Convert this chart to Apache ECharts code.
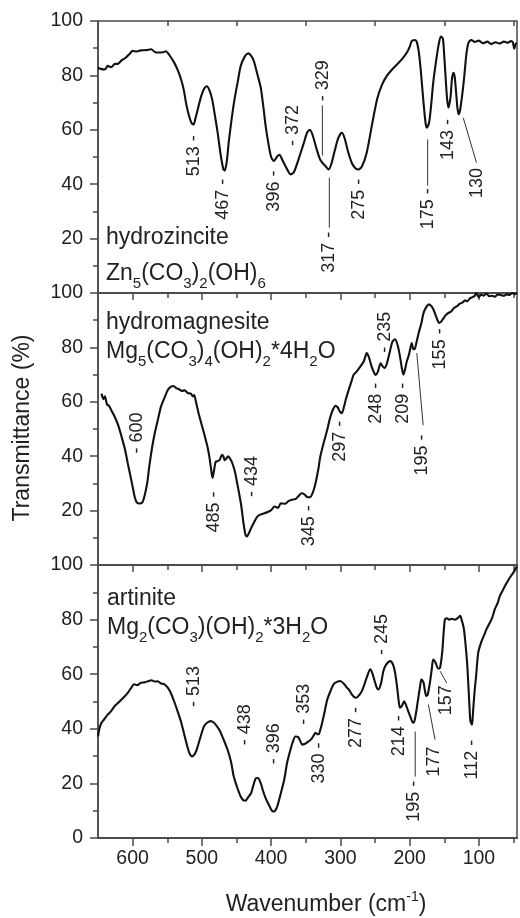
<!DOCTYPE html>
<html>
<head>
<meta charset="utf-8">
<script src="https://cdn.jsdelivr.net/npm/echarts@6/dist/echarts.min.js"></script>
<style>
html,body{margin:0;padding:0;background:#fff;}
#chart{width:520px;height:918px;}
</style>
</head>
<body>
<div id="chart"></div>
<script>
// ---------- DATA ----------
const xMajorTicks = [600, 500, 400, 300, 200, 100];
const xMinorTicks = [550, 450, 350, 250, 150, 50];
const yTicksStep = 20;

// hydrozincite spectrum [wavenumber, transmittance]
const hydrozincite = [
[650,82.8],[645,82.3],[640,82.2],[636,83.5],[631,83.0],[626,84.2],[621,84.3],[616,85.5],[610,86.5],[604,88.0],
[600,89.0],[594,88.8],[588,89.2],[580,89.3],[573,89.6],[569,88.8],[566,88.4],[560,88.4],[555,88.6],[552,88.9],
[547,87.5],[540,84.7],[535,82.0],[530,78.5],[526,74.5],[523,70.0],[519,65.5],[515,62.5],[512,62.0],[509,64.5],
[505,68.5],[501,72.4],[497,75.0],[493,76.0],[489,74.5],[485,71.0],[481,65.0],[477,58.5],[473,51.0],[469,45.5],
[467,45.0],[464,48.5],[461,56.0],[457,64.0],[453,71.0],[448,78.0],[444,83.4],[438,87.0],[433,88.1],[429,87.3],
[425,85.3],[420,80.5],[415,75.5],[411,68.0],[408,61.5],[404,55.0],[400,50.0],[396,48.5],[391,50.3],[388,50.8],
[384,49.0],[378,46.0],[372,43.6],[367,44.5],[360,49.5],[353,55.0],[348,59.0],[344,60.0],[340,58.0],[335,53.5],
[330,49.5],[326,47.8],[322,46.8],[317,45.4],[313,47.5],[308,52.5],[303,57.0],[298,58.9],[294,57.0],[289,52.0],
[283,47.5],[278,45.8],[274,45.4],[269,46.5],[262,51.6],[255,61.0],[247,71.2],[240,76.5],[233,79.8],[226,82.0],
[218,84.1],[211,86.0],[204,88.4],[200,90.5],[197,92.6],[193,93.0],[190,92.5],[187,89.0],[184,82.0],[180,70.0],
[177,62.5],[175,60.8],[172,62.5],[169,69.0],[166,77.3],[162,85.0],[158,91.5],[155,94.3],[152,93.5],[150,87.0],
[148,79.0],[146,71.5],[144,68.1],[141,72.0],[139,78.5],[137,81.0],[135,79.5],[133,74.0],[131,68.0],[129,65.7],
[127,67.5],[124,73.0],[121,80.0],[118,88.0],[115,92.0],[111,93.0],[106,92.3],[100,92.8],[94,91.8],[88,92.4],
[82,91.5],[76,92.2],[70,91.7],[64,92.4],[58,92.0],[54,92.6],[51,92.2],[49,89.8],[47,91.5],[45,92.0]
];

// hydromagnesite spectrum
const hydromagnesite = [
[645,63.0],[642,61.0],[640,62.0],[637,59.0],[634,58.5],[630,56.5],[626,54.6],[621,51.5],[616,47.2],[611,42.5],
[607,37.4],[603,32.5],[600,28.8],[597,25.0],[594,23.0],[590,22.6],[586,23.0],[583,25.2],[579,30.0],[576,36.2],
[572,43.0],[568,48.5],[563,54.0],[559,58.3],[554,61.5],[549,64.4],[545,65.5],[541,65.8],[537,65.0],[533,64.6],
[529,64.0],[525,64.2],[520,63.2],[516,63.0],[513,62.0],[511,62.5],[509,60.5],[505,56.0],[501,52.2],[497,48.5],
[492,43.6],[489,39.5],[486,34.0],[484.5,32.0],[482,35.5],[480,38.0],[477,38.2],[474,38.8],[471,40.5],[469,40.0],
[467,38.5],[465,39.0],[462,40.0],[459,39.0],[456,37.4],[452,34.0],[449,30.0],[446,26.0],[443,21.5],[440,15.5],
[437,11.0],[435,10.5],[432,11.8],[429,13.5],[425,15.5],[420,17.8],[415,18.6],[410,19.0],[405,19.5],[400,20.2],
[395,21.5],[390,21.0],[386,22.7],[380,22.5],[375,23.5],[370,24.0],[365,24.2],[360,25.5],[356,26.4],[352,26.0],
[348,25.0],[344,24.9],[340,26.5],[336,30.0],[332,35.0],[329,39.9],[324,45.0],[319,49.7],[315,54.0],[311,57.0],
[307,58.5],[304,58.0],[301,56.5],[298,55.8],[295,58.0],[292,61.0],[288,64.4],[284,67.5],[281,69.9],[277,71.0],
[271,73.0],[266,75.0],[262,77.9],[259,76.5],[255,73.0],[251,70.5],[249,69.9],[246,71.0],[242,74.2],[239,73.0],
[236,72.4],[233,74.0],[229,78.0],[225,82.0],[221,83.0],[217,80.5],[214,76.7],[211,72.0],[209,70.0],[207,71.5],
[204,75.0],[201,77.3],[197,81.6],[195,79.5],[193,79.3],[190,82.0],[187,85.3],[183,89.0],[180,92.6],[176,94.8],
[172,95.8],[168,95.0],[165,93.5],[162,91.5],[159,89.5],[157,89.0],[153,90.0],[149,91.5],[145,92.5],[140,93.2],
[136,94.5],[132,95.1],[128,96.0],[124,96.5],[120,97.3],[117,96.9],[113,98.0],[109,98.5],[106,99.0],[104,100.0],
[102,99.2],[100,98.5],[97,99.4],[93,99.0],[89,99.8],[85,98.8],[81,99.0],[77,98.6],[73,99.5],[69,99.3],
[64,99.0],[60,99.5],[56,99.3],[52,100.0],[48,99.6],[45,100.0]
];

// artinite spectrum
const artinite = [
[650,37.2],[648,40.0],[645,42.2],[641,43.5],[636,45.2],[631,46.5],[626,48.3],[621,49.5],[616,50.7],[611,52.0],
[607,53.2],[602,55.0],[598,56.3],[593,56.0],[588,56.9],[583,57.0],[578,57.4],[573,57.8],[568,57.3],[564,57.4],
[559,56.6],[554,56.3],[549,55.0],[545,53.2],[540,50.0],[535,46.4],[530,42.5],[526,38.5],[522,34.5],[518,31.1],
[514,29.9],[511,30.5],[508,32.0],[506,33.6],[502,37.0],[497,40.9],[492,42.3],[487,42.8],[483,42.3],[479,41.2],
[475,39.7],[471,37.5],[467,35.0],[463,32.4],[458,28.0],[454,22.5],[449,18.5],[444,15.2],[440,13.8],[437,13.7],
[433,15.0],[429,16.4],[426,19.0],[422,21.9],[419,22.0],[415,20.1],[412,17.5],[408,14.6],[403,12.0],[399,10.0],
[396,9.7],[392,11.0],[389,13.5],[386,16.4],[381,21.5],[377,27.5],[373,31.5],[369,35.0],[365,37.2],[361,37.0],
[358,35.5],[355,34.2],[351,34.5],[348,35.0],[346,35.4],[342,36.2],[338,37.8],[336,38.5],[333,38.0],[331,38.1],
[327,41.5],[323,46.0],[319,50.7],[314,54.0],[310,56.3],[305,57.2],[300,57.5],[295,56.5],[291,55.2],[288,54.4],
[284,52.8],[280,51.6],[277,51.4],[273,52.3],[269,53.8],[265,56.5],[261,59.5],[257,61.8],[254,60.5],[250,57.0],
[247,54.8],[245,54.4],[241,57.0],[238,61.1],[234,63.5],[228,64.8],[224,63.5],[221,60.5],[218,55.0],[216,50.5],
[214,47.7],[211,48.5],[208,50.1],[205,48.5],[202,46.4],[199,44.5],[196,42.5],[194,42.2],[191,45.5],[188,50.5],
[185,55.5],[183,58.1],[180,57.0],[178,54.0],[176,52.0],[174,52.5],[171,56.5],[168,62.0],[166,65.4],[163,64.5],
[160,62.5],[158,62.0],[156,62.5],[153,68.0],[151,75.0],[149,80.1],[146,80.5],[143,80.0],[140,80.3],[137,80.1],
[134,80.0],[130,80.7],[127,81.4],[125,80.0],[122,77.0],[120,72.8],[117,64.0],[115,55.0],[113,45.0],[112,42.5],
[110,41.5],[109,44.0],[108,48.0],[106,54.4],[104,59.5],[101,67.9],[97,71.5],[93,74.0],[89,76.5],[85,78.5],
[81,80.5],[77,83.8],[73,86.0],[70,88.5],[66,90.5],[62,92.5],[59,93.8],[55,95.5],[50,97.3],[45,99.5]
];

// peak labels: [wavenumber, transmittance anchor, text]
const hzLabelsBelow = [[512,58,'513 -'],[469,42,'467 -'],[396,45,'396 -'],[317,22.5,'317 -'],[273,42,'275 -'],[173,38.5,'175 -'],[144,64,'143 -'],[103,46,'130']];
const hzLabelsAbove = [[369,54,'- 372'],[325,70.5,'- 329']];
const hzLeaders = [[326,69,326,50.5],[316,42.4,316,24],[174,56.5,174,39.5],[122.6,64.4,103.5,47.9]];

const hmLabelsBelow = [[483,27,'485 -'],[345,22,'345 -'],[300,53,'297 -'],[249,67,'248 -'],[209,67,'209 -'],[182,48,'195 -'],[156,87,'155 -']];
const hmLabelsAbove = [[593,41,'- 600'],[428,25,'- 434'],[235,78,'- 235']];
const hmLeaders = [[189.7,77.9,180.5,51.4]];

const arLabelsBelow = [[331,35,'330 -'],[278,48,'277 -'],[216,45,'214 -'],[193.5,21,'195 -'],[165,33.5,'177'],[148,56,'157'],[110,36,'112 -']];
const arLabelsAbove = [[512,48,'- 513'],[438,34,'- 438'],[396,27,'- 396'],[353,41.5,'- 353'],[240,67,'- 245']];
const arLeaders = [[192,39,192,22.5],[173,48.9,163.3,36],[156,61.1,146.5,56.8]];

// ---------- LAYOUT / STYLE ----------
const FONT = '"Liberation Sans", Arial, Helvetica, sans-serif';
const AXIS_COLOR = '#4a4a4a';
const TEXT_COLOR = '#222';
const X_MIN = 45, X_MAX = 650;
const grids = [
  {left: 98, right: 3, top: 21, height: 272},
  {left: 98, right: 3, top: 293, height: 272},
  {left: 98, right: 3, top: 565, height: 273}
];

const chart = echarts.init(document.getElementById('chart'), null, {renderer: 'canvas'});

const xAxes = [];
const yAxes = [];
grids.forEach((g, i) => {
  xAxes.push({
    type: 'value', gridIndex: i, position: 'top', min: X_MIN, max: X_MAX, inverse: true,
    axisLine: {show: true, lineStyle: {color: AXIS_COLOR, width: 1.5}},
    axisTick: {show: true, inside: true, length: 7, customValues: xMajorTicks, lineStyle: {color: AXIS_COLOR, width: 1.5}},
    axisLabel: {show: false}, splitLine: {show: false}
  });
  xAxes.push({
    type: 'value', gridIndex: i, position: 'top', min: X_MIN, max: X_MAX, inverse: true,
    axisLine: {show: false},
    axisTick: {show: true, inside: true, length: 5, customValues: xMinorTicks, lineStyle: {color: AXIS_COLOR, width: 1.5}},
    axisLabel: {show: false}, splitLine: {show: false}
  });
  yAxes.push({
    type: 'value', gridIndex: i, min: 0, max: 100, interval: yTicksStep,
    axisLine: {show: true, lineStyle: {color: AXIS_COLOR, width: 1.5}},
    axisTick: {show: true, inside: false, length: 8, lineStyle: {color: AXIS_COLOR, width: 1.5}},
    minorTick: {show: true, splitNumber: 2, length: 5, lineStyle: {color: AXIS_COLOR, width: 1.5}},
    axisLabel: {show: true, margin: 15, fontSize: 19.5, fontFamily: FONT, color: TEXT_COLOR,
      formatter: v => (i < 2 && v === 0) ? '' : String(v)},
    splitLine: {show: false}
  });
});
xAxes.push({
  type: 'value', gridIndex: 2, position: 'bottom', min: X_MIN, max: X_MAX, inverse: true,
  axisLine: {show: true, lineStyle: {color: AXIS_COLOR, width: 1.5}},
  axisTick: {show: true, inside: false, length: 8, customValues: xMajorTicks, lineStyle: {color: AXIS_COLOR, width: 1.5}},
  axisLabel: {show: true, customValues: xMajorTicks, margin: 11, fontSize: 19.5, fontFamily: FONT, color: TEXT_COLOR},
  splitLine: {show: false}
});
xAxes.push({
  type: 'value', gridIndex: 2, position: 'bottom', min: X_MIN, max: X_MAX, inverse: true,
  axisLine: {show: false},
  axisTick: {show: true, inside: false, length: 5, customValues: xMinorTicks, lineStyle: {color: AXIS_COLOR, width: 1.5}},
  axisLabel: {show: false}, splitLine: {show: false}
});

function spectrumSeries(i, data) {
  return {
    type: 'line', xAxisIndex: 2 * i, yAxisIndex: i, data: data,
    showSymbol: false, symbol: 'none', smooth: 0.25, clip: true,
    lineStyle: {color: '#111', width: 2.1}, z: 3, silent: true, animation: false
  };
}
function labelSeries(i, items, side) {
  return {
    type: 'custom', xAxisIndex: 2 * i, yAxisIndex: i, silent: true, z: 6, clip: false, animation: false,
    data: items.map(d => [d[0], d[1]]),
    encode: {x: 0, y: 1},
    renderItem: (params, api) => {
      const p = api.coord([api.value(0), api.value(1)]);
      return {
        type: 'text', x: p[0], y: p[1], rotation: Math.PI / 2,
        style: {
          text: items[params.dataIndex][2],
          align: side === 'below' ? 'right' : 'left',
          verticalAlign: 'middle',
          fontSize: 18, fontFamily: FONT, fill: TEXT_COLOR
        }
      };
    }
  };
}
function leaderSeries(i, items) {
  return {
    type: 'custom', xAxisIndex: 2 * i, yAxisIndex: i, silent: true, z: 5, clip: false, animation: false,
    data: items,
    encode: {x: [0, 2], y: [1, 3]},
    renderItem: (params, api) => {
      const a = api.coord([api.value(0), api.value(1)]);
      const b = api.coord([api.value(2), api.value(3)]);
      return {type: 'line', shape: {x1: a[0], y1: a[1], x2: b[0], y2: b[1]},
        style: {stroke: '#333', lineWidth: 1}};
    }
  };
}

const richMain = {fontSize: 23, lineHeight: 34, fontFamily: FONT, fill: TEXT_COLOR};
const richSub = {fontSize: 15, lineHeight: 8, verticalAlign: 'bottom', fontFamily: FONT, fill: TEXT_COLOR};

function nameText(x, baseline, txt) {
  return {type: 'text', x: x, y: baseline - 8, z: 10,
    style: {text: txt, fontSize: 23, fontFamily: FONT, fill: TEXT_COLOR, align: 'left', verticalAlign: 'middle'}};
}
function formulaText(x, baseline, txt) {
  return {type: 'text', x: x, y: baseline - 8, z: 10,
    style: {text: txt, align: 'left', verticalAlign: 'middle', rich: {m: richMain, s: richSub}}};
}

const option = {
  animation: false,
  backgroundColor: '#fff',
  grid: grids.map(g => Object.assign({show: true, borderColor: AXIS_COLOR, borderWidth: 1.5, backgroundColor: 'transparent'}, g)),
  xAxis: xAxes,
  yAxis: yAxes,
  series: [
    spectrumSeries(0, hydrozincite),
    spectrumSeries(1, hydromagnesite),
    spectrumSeries(2, artinite),
    labelSeries(0, hzLabelsBelow, 'below'), labelSeries(0, hzLabelsAbove, 'above'), leaderSeries(0, hzLeaders),
    labelSeries(1, hmLabelsBelow, 'below'), labelSeries(1, hmLabelsAbove, 'above'), leaderSeries(1, hmLeaders),
    labelSeries(2, arLabelsBelow, 'below'), labelSeries(2, arLabelsAbove, 'above'), leaderSeries(2, arLeaders)
  ],
  graphic: [
    nameText(106, 246, 'hydrozincite'),
    formulaText(106, 282, '{m|Zn}{s|5}{m|(CO}{s|3}{m|)}{s|2}{m|(OH)}{s|6}'),
    nameText(106, 331, 'hydromagnesite'),
    formulaText(106, 360, '{m|Mg}{s|5}{m|(CO}{s|3}{m|)}{s|4}{m|(OH)}{s|2}{m|*4H}{s|2}{m|O}'),
    nameText(107, 607, 'artinite'),
    formulaText(107, 636, '{m|Mg}{s|2}{m|(CO}{s|3}{m|)(OH)}{s|2}{m|*3H}{s|2}{m|O}'),
    {type: 'text', x: 23, y: 428, rotation: Math.PI / 2, z: 10,
      style: {text: 'Transmittance (%)', fontSize: 23, fontFamily: FONT, fill: TEXT_COLOR, align: 'center', verticalAlign: 'middle'}},
    {type: 'text', x: 326, y: 905, z: 10,
      style: {text: '{m|Wavenumber (cm}{p|-1}{m|)}', align: 'center', verticalAlign: 'middle',
        rich: {m: {fontSize: 23, lineHeight: 30, fontFamily: FONT, fill: TEXT_COLOR},
               p: {fontSize: 14, lineHeight: 18, verticalAlign: 'top', fontFamily: FONT, fill: TEXT_COLOR}}}}
  ]
};
chart.setOption(option);
</script>
</body>
</html>
